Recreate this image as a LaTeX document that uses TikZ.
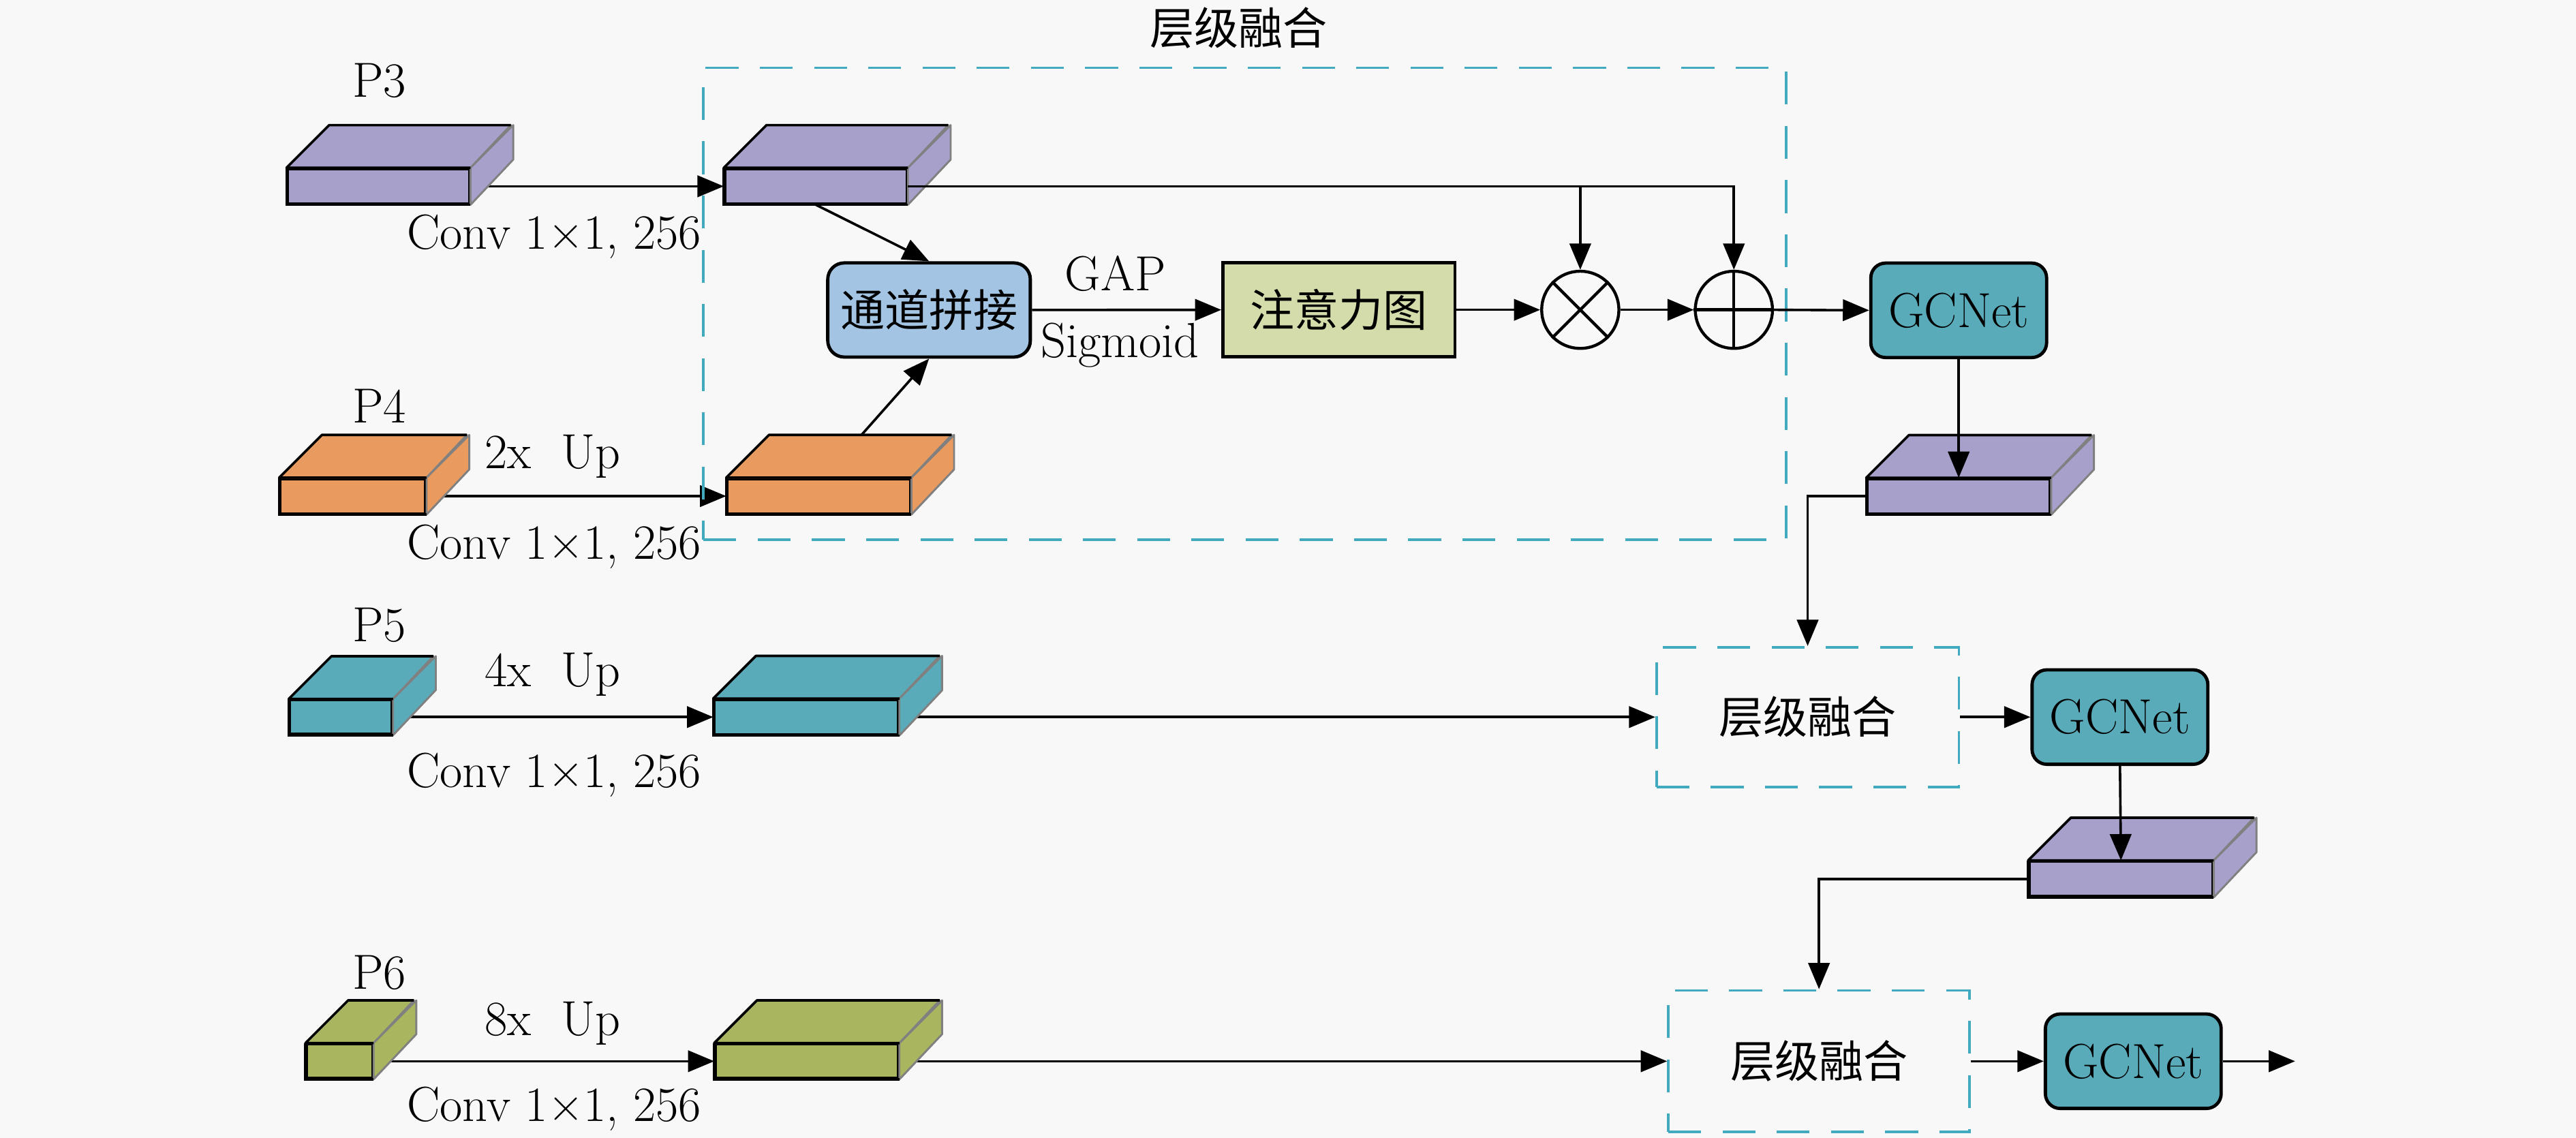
\documentclass[tikz,border=0pt]{standalone}
\usepackage{fontspec}
\newfontfamily\cjk{Noto Sans CJK SC}
\newcommand\cjkt{\fontsize{27}{32}\selectfont\cjk}
\usetikzlibrary{arrows.meta,calc}
\pgfdeclarelayer{bgfill}
\pgfdeclarelayer{background}
\pgfsetlayers{bgfill,background,main}

\definecolor{bgc}{RGB}{248,248,248}
\definecolor{purp}{RGB}{166,160,203}
\definecolor{orng}{RGB}{232,154,95}
\definecolor{tealc}{RGB}{90,171,185}
\definecolor{olivec}{RGB}{169,182,95}
\definecolor{lblue}{RGB}{163,197,227}
\definecolor{lgreen}{RGB}{213,220,171}
\definecolor{dashc}{RGB}{66,170,190}

\tikzset{
 every node/.style={font=\fontsize{30}{36}\selectfont},
 cubefront/.style={draw=black, line width=1.5pt, inner sep=0pt, rectangle},
 arr/.style={line width=1.5pt, -{Triangle[length=16pt,width=13pt]}},
 fusebox/.style={draw=dashc, line width=1.5pt, dash pattern=on 20pt off 13pt, inner sep=0pt},
 gcbox/.style={draw=black, line width=2pt, fill=tealc, rounded corners=9pt, minimum width=107pt, minimum height=57.5pt, inner sep=0pt},
 opcirc/.style={circle, draw=black, line width=1.8pt, minimum size=47pt, inner sep=0pt},
 lbl/.style={inner sep=0pt}
}

\newcommand\cuboid[6]{%
 \node[cubefront, fill=#6, minimum width=#4pt, minimum height=#5pt] (#1) at (#2,#3) {};
 \filldraw[fill=#6, draw=gray, line width=1.2pt, line join=round] (#1.north west) -- ++(26,-26) -- ++(#4,0) -- (#1.north east) -- cycle;
 \filldraw[fill=#6, draw=gray, line width=1.2pt, line join=round] (#1.north east) -- ++(26,-26) -- ++(0,#5) -- (#1.south east) -- cycle;
 \draw[black, line width=1.5pt, line join=round] (#1.north east) -- (#1.north west) -- ++(26,-26) -- ++(#4,0);
 \draw[black, line width=1.5pt] (#1.north west) -- (#1.south west) -- (#1.south east);
 \coordinate (#1t) at ($(#1.north)+(26,-26)$);
}

\begin{document}
\begin{tikzpicture}[x=1pt,y=-1pt]
\begin{pgfonlayer}{bgfill}
\fill[bgc] (0,0) rectangle (1568,692.7);
\end{pgfonlayer}
\useasboundingbox (0,0) rectangle (1568,692.7);

% big fusion block
\node[fusebox, minimum width=659pt, minimum height=287.3pt] (fuse1) at (757.7,185) {};
\node[lbl] (fuse1t) at (754,17) {\cjkt 层级融合};

% input labels
\node[lbl, anchor=base] (lp3) at (231,59.1) {P3};
\node[lbl, anchor=base] (lp4) at (231,257.2) {P4};
\node[lbl, anchor=base] (lp5) at (231,390.6) {P5};
\node[lbl, anchor=base] (lp6) at (231,602) {P6};

% feature cuboids
\cuboid{p3}{230.4}{113.4}{110.5}{21}{purp}
\cuboid{b2}{496.6}{113.4}{110.6}{21}{purp}
\cuboid{p4}{214.8}{302}{88.2}{21}{orng}
\cuboid{p4c}{498.4}{302}{111.2}{21}{orng}
\cuboid{p5}{207.5}{436.5}{62}{20.6}{tealc}
\cuboid{b5c}{490.8}{436.5}{111.8}{21}{tealc}
\cuboid{p6}{206.65}{646}{40}{20.6}{olivec}
\cuboid{b6c}{491.1}{646}{111.2}{20.6}{olivec}
\cuboid{b3}{1192.25}{302.1}{111.1}{21}{purp}
\cuboid{b4}{1291}{535}{111.5}{21}{purp}

% operation labels
\node[lbl, anchor=base] (c3) at (337.3,151.6) {Conv 1×1, 256};
\node[lbl, anchor=base] (c4) at (337.3,340.2) {Conv 1×1, 256};
\node[lbl, anchor=base] (c5) at (337.3,479.5) {Conv 1×1, 256};
\node[lbl, anchor=base] (c6) at (337.3,682.7) {Conv 1×1, 256};
\node[lbl, anchor=base] (u4) at (336.5,285.3) {2x\ \ Up};
\node[lbl, anchor=base] (u5) at (336.5,418.1) {4x\ \ Up};
\node[lbl, anchor=base] (u6) at (336.5,630.2) {8x\ \ Up};
\node[lbl, anchor=base] (gap) at (679,176.8) {GAP};
\node[lbl, anchor=base] (sig) at (681.8,217.5) {Sigmoid};

% processing blocks
\node[draw=black, line width=2pt, fill=lblue, rounded corners=10pt, minimum width=123.3pt, minimum height=57.3pt, inner sep=0pt] (cat) at (565.5,188.7) {\cjkt 通道拼接};
\node[draw=black, line width=2pt, fill=lgreen, minimum width=141.2pt, minimum height=57.4pt, inner sep=0pt] (att) at (815,188.6) {\cjkt 注意力图};
\node[opcirc] (mul) at (961.9,188.6) {};
\node[opcirc] (add) at (1055.4,188.6) {};
\draw[line width=1.8pt] (mul.north east) -- (mul.south west) (mul.north west) -- (mul.south east);
\draw[line width=1.8pt] (add.north) -- (add.south) (add.west) -- (add.east);
\node[gcbox] (g1) at (1192.25,188.9) {GCNet};
\node[fusebox, minimum width=184pt, minimum height=85pt] (fuse2) at (1100.3,436.5) {\cjkt 层级融合};
\node[gcbox] (g2) at (1290.4,436.5) {GCNet};
\node[fusebox, minimum width=183.4pt, minimum height=86.2pt] (fuse3) at (1107.2,646) {\cjkt 层级融合};
\node[gcbox] (g3) at (1298.5,646) {GCNet};
\coordinate (out) at (1397,646);

% connectors behind cuboids
\begin{pgfonlayer}{background}
\draw[arr] (p3.east) -- (b2.west);
\draw[arr] (p4.east) -- (p4c.west);
\draw[arr] (p5.east) -- (b5c.west);
\draw[arr] (p6.east) -- (b6c.west);
\draw[arr] (b5c.east) -- (fuse2.west);
\draw[arr] (b6c.east) -- (fuse3.west);
\end{pgfonlayer}

% connectors
\draw[arr] (b2.south) -- (cat.north);
\draw[arr] (p4ct) -- (cat.south);
\draw[arr] (cat.east) -- (att.west);
\draw[arr] (att.east) -- (mul.west);
\draw[arr] (mul.east) -- (add.west);
\draw[arr] (add.east) -- (g1.west);
\draw[arr] (b2.east) -| (add.north);
\draw[arr] (mul.north |- b2.east) -- (mul.north);
\draw[arr] (g1.south) -- (b3.north);
\draw[arr] (b3.west) -| (fuse2.north);
\draw[arr] (fuse2.east) -- (g2.west);
\draw[arr] (g2.south) -- (b4.north);
\draw[arr] (b4.west) -| (fuse3.north);
\draw[arr] (fuse3.east) -- (g3.west);
\draw[arr] (g3.east) -- (out);
\end{tikzpicture}
\end{document}
